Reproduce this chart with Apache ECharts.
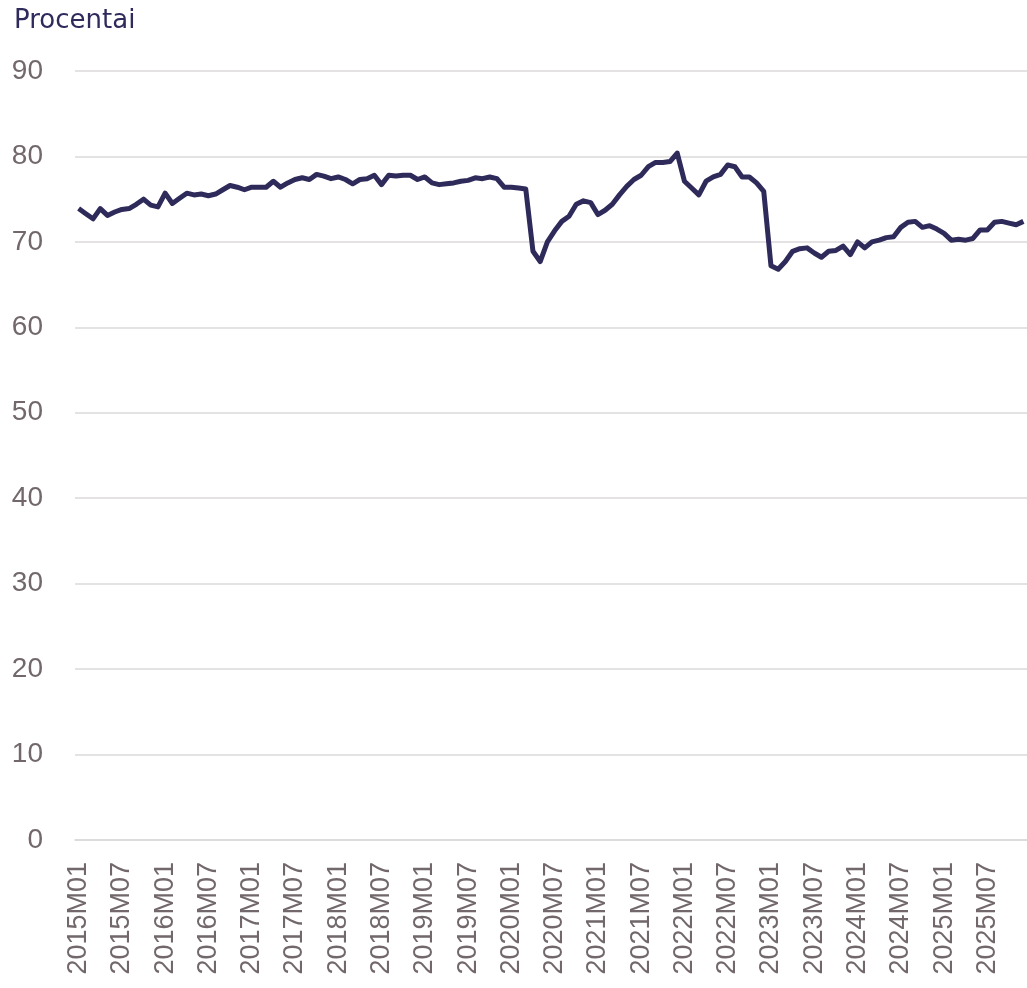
<!DOCTYPE html>
<html>
<head>
<meta charset="utf-8">
<script src="https://cdn.jsdelivr.net/npm/echarts@6/dist/echarts.min.js"></script>
<style>
  html, body { margin: 0; padding: 0; background: #fff; }
  #chart { width: 1027px; height: 988px; }
</style>
</head>
<body>
<div id="chart"></div>
<script>
// months 2015M01 .. 2025M12
const years = [2015, 2016, 2017, 2018, 2019, 2020, 2021, 2022, 2023, 2024, 2025]
const months = ['01', '02', '03', '04', '05', '06', '07', '08', '09', '10', '11', '12']
const categories = []
years.forEach(y => months.forEach(m => categories.push(y + 'M' + m)))

// procentai
const values = [
  73.9, 73.3, 72.7, 73.9, 73.1, 73.5, 73.8, 73.9, 74.4, 75.0, 74.3, 74.1,
  75.7, 74.5, 75.1, 75.7, 75.5, 75.6, 75.4, 75.6, 76.1, 76.6, 76.4, 76.1,
  76.4, 76.4, 76.4, 77.1, 76.4, 76.9, 77.3, 77.5, 77.3, 77.9, 77.7, 77.4,
  77.6, 77.3, 76.8, 77.3, 77.4, 77.8, 76.7, 77.8, 77.7, 77.8, 77.8, 77.3,
  77.6, 76.9, 76.7, 76.8, 76.9, 77.1, 77.2, 77.5, 77.4, 77.6, 77.4, 76.4,
  76.4, 76.3, 76.2, 68.9, 67.7, 70.0, 71.3, 72.4, 73.0, 74.4, 74.8, 74.6,
  73.2, 73.7, 74.4, 75.5, 76.5, 77.3, 77.8, 78.8, 79.3, 79.3, 79.4, 80.4,
  77.1, 76.3, 75.5, 77.1, 77.6, 77.9, 79.0, 78.8, 77.6, 77.6, 76.9, 75.9,
  67.2, 66.8, 67.7, 68.9, 69.2, 69.3, 68.7, 68.2, 68.9, 69.0, 69.5, 68.5,
  70.0, 69.3, 70.0, 70.2, 70.5, 70.6, 71.7, 72.3, 72.4, 71.7, 71.9, 71.5,
  71.0, 70.2, 70.3, 70.2, 70.4, 71.4, 71.4, 72.3, 72.4, 72.2, 72.0, 72.4
]

const labelColor = '#72686b'
const gridColor = '#dcd9da'

const chart = echarts.init(document.getElementById('chart'))

const option = {
  animation: false,
  title: {
    text: 'Procentai',
    left: 9,
    top: 3,
    textStyle: {
      color: '#2e2a5c',
      fontFamily: 'DejaVu Sans',
      fontWeight: 'normal',
      fontSize: 26
    }
  },
  grid: {
    left: 75,
    right: 0,
    top: 71,
    bottom: 148
  },
  xAxis: {
    type: 'category',
    data: categories,
    boundaryGap: true,
    axisLine: {
      lineStyle: { color: gridColor, width: 1.5 }
    },
    axisTick: {
      interval: 9,
      length: 9,
      lineStyle: { color: '#d2cecf', width: 1.5 }
    },
    axisLabel: {
      interval: 5,
      rotate: 90,
      margin: 22,
      color: labelColor,
      fontFamily: 'Liberation Sans',
      fontSize: 27
    }
  },
  yAxis: {
    type: 'value',
    min: 0,
    max: 90,
    interval: 10,
    axisLine: { show: false },
    axisTick: { show: false },
    axisLabel: {
      margin: 32,
      color: labelColor,
      fontFamily: 'Liberation Sans',
      fontSize: 28
    },
    splitLine: {
      lineStyle: { color: gridColor, width: 1.5 }
    }
  },
  series: [{
    name: 'Procentai',
    type: 'line',
    data: values,
    symbol: 'none',
    lineStyle: {
      color: '#2e2a5a',
      width: 5,
      join: 'round'
    }
  }]
}

chart.setOption(option)
</script>
</body>
</html>
